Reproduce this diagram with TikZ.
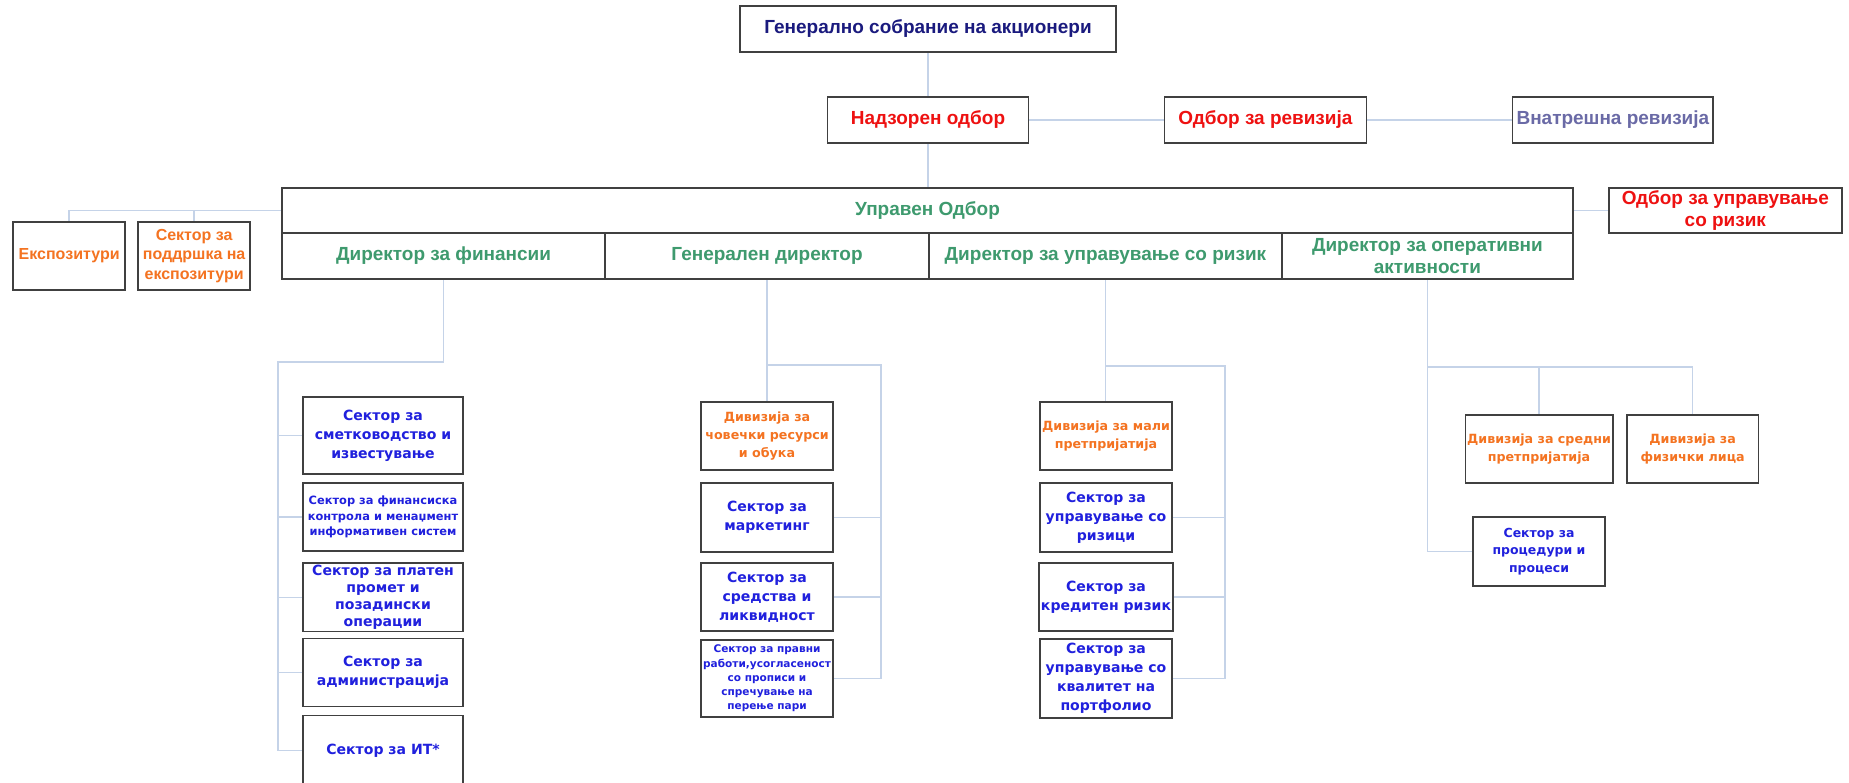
\documentclass[tikz,border=0pt]{standalone}
\usepackage{fontspec}
\setmainfont{Liberation Sans}
\newfontfamily\verdfont{DejaVu Sans}
\usepackage{tikz}
\usetikzlibrary{positioning,calc,backgrounds}
\definecolor{navytext}{HTML}{1A1A7E}
\definecolor{boardred}{HTML}{EE1111}
\definecolor{auditgray}{HTML}{6A6AA6}
\definecolor{mgmtgreen}{HTML}{3E9A6E}
\definecolor{divorange}{HTML}{F47321}
\definecolor{secblue}{HTML}{2020DD}
\definecolor{boxgray}{HTML}{404040}
\definecolor{linkblue}{HTML}{C5D3E8}
\tikzset{
  orgbox/.style={rectangle,draw=boxgray,line width=1pt,fill=white,text=#1,align=center,
    inner sep=1pt,outer sep=0pt,minimum height=0.92cm,font=\bfseries\fontsize{10.8}{12.9}\selectfont},
  orgbox/.default={navytext},
  dirbox/.style={orgbox=mgmtgreen,minimum height=0.92cm,font=\bfseries\fontsize{10.8}{13}\selectfont},
  expbox/.style={orgbox=divorange,minimum width=2.24cm,minimum height=1.36cm,
    font=\bfseries\fontsize{9.1}{11}\selectfont},
  secbox/.style={rectangle,draw=boxgray,line width=1pt,fill=white,text=#1,align=center,
    inner sep=1pt,outer sep=0pt,minimum width=2.64cm,minimum height=1.36cm,
    font=\verdfont\bfseries\fontsize{8}{10.8}\selectfont},
  secbox/.default={secblue},
  finbox/.style={secbox,minimum width=3.2cm},
  divbox/.style={secbox=divorange,font=\verdfont\bfseries\fontsize{7.2}{10}\selectfont},
  smallsec/.style 2 args={font=\verdfont\bfseries\fontsize{#1}{#2}\selectfont},
  link/.style={draw=linkblue,line width=0.8pt},
}
\begin{document}
\begin{tikzpicture}[x=0.02cm,y=-0.02cm,node distance=0.2cm]
  \clip (0,0) rectangle (1849,782);
  \node[orgbox,minimum width=7.52cm] (gsa) at (928,29) {Генерално собрание на акционери};
  \node[orgbox=boardred,minimum width=4.02cm] (nadz) at (928,120) {Надзорен одбор};
  \node[orgbox=boardred,minimum width=4.04cm,right=2.72cm of nadz] (rev) {Одбор за ревизија};
  \node[orgbox=auditgray,minimum width=4.02cm,right=2.92cm of rev] (vnat) {Внатрешна ревизија};
  \node[dirbox,minimum width=25.82cm,minimum height=0.9cm] (uo) at (927.5,210.5) {Управен Одбор};
  \node[dirbox,minimum width=6.46cm,below=0cm of uo.south west,anchor=north west] (dfin) {Директор за финансии};
  \node[dirbox,minimum width=6.48cm,right=0cm of dfin] (dgen) {Генерален директор};
  \node[dirbox,minimum width=7.06cm,right=0cm of dgen] (drisk) {Директор за управување со ризик};
  \node[dirbox,minimum width=5.82cm,right=0cm of drisk] (dop) {Директор за оперативни\\активности};
  \node[orgbox=boardred,minimum width=4.66cm,minimum height=0.9cm,right=0.72cm of uo] (our) {Одбор за управување\\со ризик};
  \node[expbox,left=0.64cm of dfin] (podr) {Сектор за\\поддршка на\\експозитури};
  \node[expbox,left=0.26cm of podr] (eksp) {Експозитури};
  \node[finbox,minimum height=1.54cm] (f1) at (383,435.5) {Сектор за\\сметководство и\\известување};
  \node[finbox,smallsec={6.5}{8.7},below=0.18cm of f1] (f2) {Сектор за финансиска\\контрола и менаџмент\\информативен систем};
  \node[finbox,smallsec={8}{9.8},below=0.24cm of f2] (f3) {Сектор за платен\\промет и\\позадински\\операции};
  \node[finbox,below=0.14cm of f3] (f4) {Сектор за\\администрација};
  \node[finbox,minimum height=1.4cm,below=0.18cm of f4] (f5) {Сектор за ИТ*};
  \node[divbox] (g1) at (767,436) {Дивизија за\\човечки ресурси\\и обука};
  \node[secbox,minimum height=1.38cm,below=0.26cm of g1] (g2) {Сектор за\\маркетинг};
  \node[secbox,below=0.22cm of g2] (g3) {Сектор за\\средства и\\ликвидност};
  \node[secbox,smallsec={6}{8.1},minimum height=1.54cm,below=0.18cm of g3] (g4) {Сектор за правни\\работи,усогласеност\\со прописи и\\спречување на\\перење пари};
  \node[divbox] (r1) at (1106,436) {Дивизија за мали\\претпријатија};
  \node[secbox,minimum height=1.38cm,below=0.26cm of r1] (r2) {Сектор за\\управување со\\ризици};
  \node[secbox,below=0.22cm of r2] (r3) {Сектор за\\кредитен ризик};
  \node[secbox,minimum height=1.58cm,below=0.16cm of r3] (r4) {Сектор за\\управување со\\квалитет на\\портфолио};
  \node[divbox,minimum width=2.92cm] (o1) at (1539,449) {Дивизија за средни\\претпријатија};
  \node[divbox,right=0.28cm of o1] (o2) {Дивизија за\\физички лица};
  \node[secbox,smallsec={7.1}{9.9},minimum height=1.38cm,below=0.68cm of o1] (o3) {Сектор за\\процедури и\\процеси};
  \coordinate (finbus) at (278,362);
  \coordinate (genbus) at (881,365);
  \coordinate (riskbus) at (1225,366);
  \coordinate (opbus) at (1427.5,367);
  \begin{scope}[on background layer]
  \draw[link] (gsa.south) -- (nadz.north);
  \draw[link] (nadz.south) -- (nadz.south |- uo.north);
  \draw[link] (nadz.east) -- (rev.west);
  \draw[link] (rev.east) -- (vnat.west);
  \draw[link] (uo.east) -- (our.west);
  \draw[link] (uo.west) -| (eksp.north);
  \draw[link] (podr.north) -- (podr.north |- uo.west);
  \draw[link] (dfin.south) |- (finbus) -- (finbus |- f5.west) -- (f5.west);
  \foreach \n in {f1,f2,f3,f4} \draw[link] (finbus |- \n.west) -- (\n.west);
  \draw[link] (dgen.south) -- (dgen.south |- g1.north);
  \draw[link] (dgen.south |- genbus) -- (genbus) -- (genbus |- g4.east) -- (g4.east);
  \foreach \n in {g2,g3} \draw[link] (genbus |- \n.east) -- (\n.east);
  \draw[link] (drisk.south) -- (drisk.south |- r1.north);
  \draw[link] (drisk.south |- riskbus) -- (riskbus) -- (riskbus |- r4.east) -- (r4.east);
  \foreach \n in {r2,r3} \draw[link] (riskbus |- \n.east) -- (\n.east);
  \draw[link] (dop.south) -- (dop.south |- o3.west) -- (o3.west);
  \draw[link] (opbus) -| (o2.north);
  \draw[link] (o1.north) -- (o1.north |- opbus);
  \end{scope}
\end{tikzpicture}
\end{document}
